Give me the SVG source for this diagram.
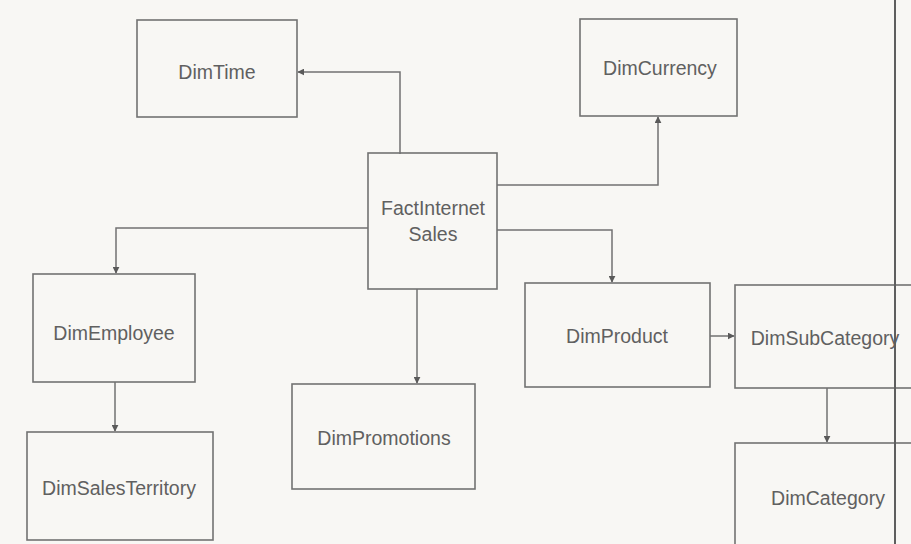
<svg xmlns="http://www.w3.org/2000/svg" width="911" height="544" viewBox="0 0 911 544">
  <defs>
    <marker id="arrow" viewBox="0 0 10 10" refX="9" refY="5" markerWidth="7" markerHeight="7" markerUnits="userSpaceOnUse" orient="auto">
      <path d="M0,0 L10,5 L0,10 z" fill="#5a5a5a"/>
    </marker>
    <style>
      .box { fill: none; stroke: #727272; stroke-width: 1.6; }
      .lbl { font-family: "Liberation Sans", Arial, sans-serif; font-size: 19.5px; fill: #606060; text-anchor: middle; }
      .conn { fill: none; stroke: #727272; stroke-width: 1.5; marker-end: url(#arrow); }
    </style>
  </defs>

  <rect width="911" height="544" fill="#f8f7f4"/>

  <g id="connectors">
    <!-- fact to DimTime -->
    <polyline class="conn" points="400,154 400,72 298,72"/>
    <!-- fact to DimCurrency -->
    <polyline class="conn" points="497,185 658,185 658,117"/>
    <!-- fact to DimProduct -->
    <polyline class="conn" points="497,230 612,230 612,282"/>
    <!-- fact to DimEmployee -->
    <polyline class="conn" points="368,228 116,228 116,273"/>
    <!-- fact to DimPromotions -->
    <polyline class="conn" points="417,289 417,383"/>
    <!-- DimEmployee to DimSalesTerritory -->
    <polyline class="conn" points="115,382 115,431"/>
    <!-- DimProduct to DimSubCategory -->
    <polyline class="conn" points="710,336 734,336"/>
    <!-- DimSubCategory to DimCategory -->
    <polyline class="conn" points="827,388 827,442"/>
  </g>

  <g id="DimTime">
    <rect class="box" x="137" y="20" width="160" height="97"/>
    <text class="lbl" x="217" y="79">DimTime</text>
  </g>
  <g id="DimCurrency">
    <rect class="box" x="580" y="19" width="157" height="97"/>
    <text class="lbl" x="660" y="75">DimCurrency</text>
  </g>
  <g id="FactInternetSales">
    <rect class="box" x="368" y="153" width="129" height="136"/>
    <text class="lbl" x="433" y="215">FactInternet</text>
    <text class="lbl" x="433" y="241">Sales</text>
  </g>
  <g id="DimEmployee">
    <rect class="box" x="33" y="274" width="162" height="108"/>
    <text class="lbl" x="114" y="340">DimEmployee</text>
  </g>
  <g id="DimSalesTerritory">
    <rect class="box" x="27" y="432" width="186" height="108"/>
    <text class="lbl" x="119" y="495">DimSalesTerritory</text>
  </g>
  <g id="DimPromotions">
    <rect class="box" x="292" y="384" width="183" height="105"/>
    <text class="lbl" x="384" y="445">DimPromotions</text>
  </g>
  <g id="DimProduct">
    <rect class="box" x="525" y="283" width="185" height="104"/>
    <text class="lbl" x="617" y="343">DimProduct</text>
  </g>
  <g id="DimSubCategory">
    <rect class="box" x="735" y="285" width="200" height="103"/>
    <text class="lbl" x="825" y="345">DimSubCategory</text>
  </g>
  <g id="DimCategory">
    <rect class="box" x="735" y="443" width="200" height="120"/>
    <text class="lbl" x="828" y="505">DimCategory</text>
  </g>

  <!-- page gutter -->
  <line x1="895" y1="0" x2="895" y2="544" stroke="#5e5e5e" stroke-width="2"/>
</svg>
